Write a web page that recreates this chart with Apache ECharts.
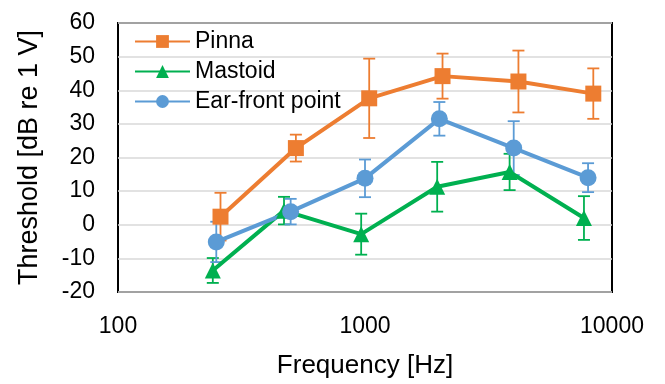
<!DOCTYPE html>
<html>
<head>
<meta charset="utf-8">
<script src="https://cdn.jsdelivr.net/npm/echarts@6/dist/echarts.min.js"></script>
<style>html,body{margin:0;padding:0;background:#fff}#c{width:665px;height:384px}</style>
</head>
<body>
<div id="c"></div>
<script>
const seriesNames = ['Pinna', 'Mastoid', 'Ear-front point'];
const freqPinna = [260, 525, 1040, 2060, 4180, 8400];
const freqMastoid = [242, 470, 965, 1960, 3850, 7700];
const freqEar = [250, 500, 1000, 2000, 4000, 8000];
const pinna = [2.4, 22.8, 37.6, 44.2, 42.6, 39.0];
const pinnaErr = [7.1, 4.0, 11.8, 6.7, 9.2, 7.5];
const mastoid = [-13.6, 4.2, -2.8, 11.3, 15.7, 2.0];
const mastoidErr = [3.7, 4.1, 6.1, 7.4, 5.4, 6.5];
const ear = [-5.1, 3.9, 13.8, 31.5, 22.8, 14.0];
const earErr = [6.0, 3.8, 5.6, 5.0, 8.0, 4.3];
const xTicks = [100, 1000, 10000];
const yMin = -20, yMax = 60, yStep = 10;

const colors = ['#ED7D31', '#00B050', '#5B9BD5'];
const symbols = ['rect', 'triangle', 'circle'];
const symSizes = [16, 16, 17];
const freqs = [freqPinna, freqMastoid, freqEar];
const vals = [pinna, mastoid, ear];
const errs = [pinnaErr, mastoidErr, earErr];
const FONT = 'Liberation Sans, Arial, sans-serif';

const series = [];
for (let i = 0; i < 3; i++) {
  series.push({
    name: seriesNames[i] + ' err',
    type: 'custom',
    z: 1,
    silent: true,
    encode: {x: 0, y: [1, 2]},
    data: freqs[i].map((f, j) => [f, vals[i][j] - errs[i][j], vals[i][j] + errs[i][j]]),
    renderItem: (function (col) {
      return function (params, api) {
        const x = api.value(0);
        const lo = api.coord([x, api.value(1)]);
        const hi = api.coord([x, api.value(2)]);
        const w = 6;
        const st = {stroke: col, lineWidth: 1.8};
        return {
          type: 'group',
          children: [
            {type: 'line', shape: {x1: hi[0], y1: hi[1], x2: lo[0], y2: lo[1]}, style: st},
            {type: 'line', shape: {x1: hi[0] - w, y1: hi[1], x2: hi[0] + w, y2: hi[1]}, style: st},
            {type: 'line', shape: {x1: lo[0] - w, y1: lo[1], x2: lo[0] + w, y2: lo[1]}, style: st}
          ]
        };
      };
    })(colors[i])
  });
}
for (let i = 0; i < 3; i++) {
  series.push({
    name: seriesNames[i],
    type: 'line',
    z: 3,
    data: freqs[i].map((f, j) => [f, vals[i][j]]),
    symbol: symbols[i],
    symbolSize: symSizes[i],
    showAllSymbol: true,
    lineStyle: {color: colors[i], width: 4},
    itemStyle: {color: colors[i], borderWidth: 0},
    emphasis: {disabled: true}
  });
}

const chart = echarts.init(document.getElementById('c'), null, {renderer: 'canvas'});
chart.setOption({
  animation: false,
  backgroundColor: '#fff',
  grid: {left: 118, right: 53, top: 23, bottom: 86, show: true, borderColor: '#000', borderWidth: 2, backgroundColor: 'transparent'},
  legend: {
    data: seriesNames,
    orient: 'vertical',
    left: 134,
    top: 29,
    padding: 0,
    itemWidth: 55,
    itemHeight: 16,
    itemGap: 5,
    textStyle: {fontFamily: FONT, fontSize: 23, color: '#000', lineHeight: 25},
    selectedMode: false
  },
  xAxis: {
    type: 'log',
    logBase: 10,
    min: xTicks[0],
    max: xTicks[xTicks.length - 1],
    name: 'Frequency [Hz]',
    nameLocation: 'middle',
    nameGap: 61,
    nameTextStyle: {fontFamily: FONT, fontSize: 26, color: '#000'},
    axisLine: {show: false},
    axisTick: {show: false},
    splitLine: {show: false},
    minorTick: {show: false},
    axisLabel: {fontFamily: FONT, fontSize: 23, color: '#000', margin: 23, formatter: v => String(v)}
  },
  yAxis: {
    type: 'value',
    min: yMin,
    max: yMax,
    interval: yStep,
    name: 'Threshold [dB re 1 V]',
    nameLocation: 'middle',
    nameGap: 75,
    nameTextStyle: {fontFamily: FONT, fontSize: 27, color: '#000'},
    axisLine: {show: false},
    axisTick: {show: false},
    splitLine: {show: true, lineStyle: {color: '#d9d9d9', width: 1.5}},
    axisLabel: {fontFamily: FONT, fontSize: 23, color: '#000', margin: 23}
  },
  series: series
});
</script>
</body>
</html>
